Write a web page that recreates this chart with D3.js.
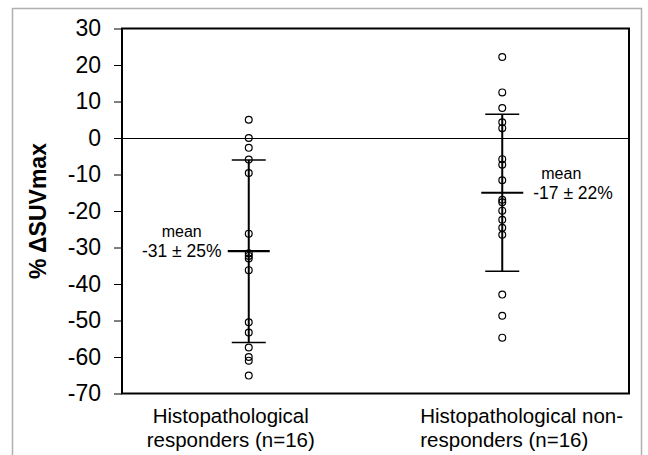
<!DOCTYPE html>
<html>
<head>
<meta charset="utf-8">
<script src="https://cdn.jsdelivr.net/npm/d3@7"></script>
<style>
  body { margin: 0; background: #fff; }
  text { font-family: "Liberation Sans", Arial, Helvetica, sans-serif; fill: #000; }
</style>
</head>
<body>
<div id="chart"></div>
<script>
// data
var categories = ["responders", "nonResponders"];
var categoryLines = [
  ["Histopathological", "responders (n=16)"],
  ["Histopathological non-", "responders (n=16)"]
];
var responders = [5, 0, -2.7, -5.9, -9.6, -26.2, -31.6, -32.3, -33.0, -36.2,
                  -50.5, -53.3, -57.4, -60.0, -61.0, -65.1];
var nonResponders = [22.2, 12.5, 8.2, 4.3, 2.7, -5.8, -7.3, -11.6, -16.9, -17.6,
                     -19.9, -22.4, -24.6, -26.5, -42.9, -48.7, -54.7];
var means = [-31, -15];
var sds = [25, 21.5];
var meanLabels = ["-31 \u00b1 25%", "-17 \u00b1 22%"];
var yTicks = [30, 20, 10, 0, -10, -20, -30, -40, -50, -60, -70];

var W = 648, H = 455;
var margin = {top: 28.5, right: 19, bottom: 61.5, left: 122};

var svg = d3.select("#chart")
  .append("svg")
    .attr("width", W)
    .attr("height", H);

// outer grey frame
svg.append("rect")
  .attr("x", 12.5)
  .attr("y", 8.5)
  .attr("width", 629)
  .attr("height", 460)
  .attr("fill", "none")
  .attr("stroke", "#b0b0b0")
  .attr("stroke-width", 1.5);

var x = d3.scalePoint()
  .domain(categories)
  .range([margin.left, W - margin.right])
  .padding(0.5);

var y = d3.scaleLinear()
  .domain([-70, 30])
  .range([H - margin.bottom, margin.top]);

// Y axis
var yAxis = svg.append("g")
  .attr("transform", "translate(" + margin.left + ",0)")
  .call(d3.axisLeft(y).tickValues(yTicks).tickSize(8).tickPadding(13).tickFormat(d3.format("d")));
yAxis.select(".domain").remove();
yAxis.selectAll(".tick line").attr("stroke", "#000").attr("stroke-width", 1);
yAxis.selectAll(".tick text")
  .attr("font-size", "23px")
  .attr("font-family", "Liberation Sans, Arial, sans-serif")
  .text(function(d) { return d < 0 ? "-" + Math.abs(d) : d; });

// zero line
svg.append("line")
  .attr("x1", margin.left).attr("x2", W - margin.right)
  .attr("y1", Math.round(y(0)) + 0.5).attr("y2", Math.round(y(0)) + 0.5)
  .attr("stroke", "#000").attr("stroke-width", 1);

// plot frame
svg.append("rect")
  .attr("x", margin.left)
  .attr("y", margin.top)
  .attr("width", W - margin.right - margin.left)
  .attr("height", H - margin.bottom - margin.top)
  .attr("fill", "none")
  .attr("stroke", "#000")
  .attr("stroke-width", 2);

// Y label
svg.append("text")
  .attr("transform", "translate(46," + ((margin.top + H - margin.bottom) / 2) + ") rotate(-90)")
  .attr("text-anchor", "middle")
  .attr("font-size", "23px")
  .attr("font-weight", "bold")
  .text("% \u0394SUVmax");

// category labels
var anchors = ["middle", "start"];
var offsets = [-18, -82];
categoryLines.forEach(function(lines, i) {
  var t = svg.append("text")
    .attr("text-anchor", anchors[i])
    .attr("font-size", "20.5px");
  lines.forEach(function(line, j) {
    t.append("tspan")
      .attr("x", x(categories[i]) + offsets[i])
      .attr("y", 423 + j * 24)
      .text(line);
  });
});

// error bars
var bars = svg.append("g");
categories.forEach(function(c, i) {
  var cx = x(c);
  bars.append("line")
    .attr("x1", cx).attr("x2", cx)
    .attr("y1", y(means[i] + sds[i])).attr("y2", y(means[i] - sds[i]))
    .attr("stroke", "#000").attr("stroke-width", 2);
  [means[i] + sds[i], means[i] - sds[i]].forEach(function(v) {
    bars.append("line")
      .attr("x1", cx - 17).attr("x2", cx + 17)
      .attr("y1", y(v)).attr("y2", y(v))
      .attr("stroke", "#000").attr("stroke-width", 1.5);
  });
  bars.append("line")
    .attr("x1", cx - 21).attr("x2", cx + 21)
    .attr("y1", y(means[i])).attr("y2", y(means[i]))
    .attr("stroke", "#000").attr("stroke-width", 2.2);
});

// dots
var groups = [responders, nonResponders];
groups.forEach(function(vals, i) {
  svg.append("g")
    .selectAll("circle")
    .data(vals)
    .enter()
    .append("circle")
      .attr("cx", x(categories[i]))
      .attr("cy", function(d) { return y(d); })
      .attr("r", 3.4)
      .attr("fill", "none")
      .attr("stroke", "#000")
      .attr("stroke-width", 1.2);
});

// mean annotations
var meanX = [[-67, "middle", -67, "middle"], [39, "start", 31, "start"]];
categories.forEach(function(c, i) {
  var cx = x(c), my = y(means[i]);
  svg.append("text")
    .attr("x", cx + meanX[i][0])
    .attr("y", my - 14)
    .attr("text-anchor", meanX[i][1])
    .attr("font-size", "16px")
    .text("mean");
  svg.append("text")
    .attr("x", cx + meanX[i][2])
    .attr("y", my + 6)
    .attr("text-anchor", meanX[i][3])
    .attr("font-size", "17.5px")
    .text(meanLabels[i]);
});
</script>
</body>
</html>
